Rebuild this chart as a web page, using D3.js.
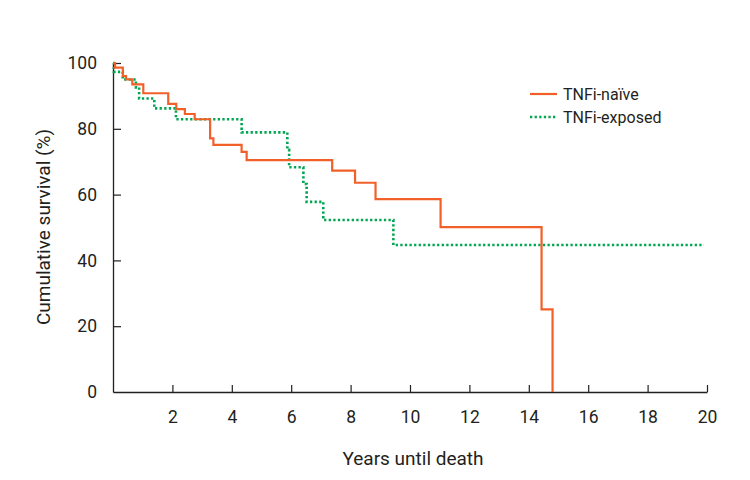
<!DOCTYPE html>
<html>
<head>
<meta charset="UTF-8">
<script src="https://d3js.org/d3.v7.min.js"></script>
<style>
  body { margin: 0; background: #fff; }
  svg { display: block; }
  text { font-family: Roboto, 'Noto Sans', sans-serif; fill: #231f20; }
</style>
</head>
<body>
<svg width="750" height="480"></svg>
<script>
// Kaplan-Meier steps (years, % surviving)
const naiveTime = [0, 0.07, 0.33, 0.44, 0.65, 1.02, 1.86, 2.13, 2.42, 2.75, 3.27, 3.38, 4.33, 4.5, 7.38, 8.15, 8.84, 11.03, 14.43, 14.8];
const naiveSurv = [100, 98.6, 96, 95, 93.5, 90.8, 87.6, 86, 84.5, 82.9, 77.1, 75.1, 73, 70.5, 67.3, 63.6, 58.6, 50.1, 25.1, 0];
const exposedTime = [0, 0.03, 0.33, 0.77, 0.88, 1.39, 2.12, 4.33, 5.87, 5.93, 6.41, 6.52, 7.08, 9.44, 19.9];
const exposedSurv = [100, 97.3, 95, 92.6, 89.2, 86.2, 82.9, 78.9, 73.6, 68.3, 63.2, 57.8, 52.3, 44.7, 44.7];
const xTicks = [2, 4, 6, 8, 10, 12, 14, 16, 18, 20];
const yTicks = [0, 20, 40, 60, 80, 100];
const seriesNames = ["TNFi-naïve", "TNFi-exposed"];

const svg = d3.select("svg");
const x = d3.scaleLinear().domain([0, 20]).range([113, 707]);
const y = d3.scaleLinear().domain([0, 100]).range([392, 63]);

// axes with inward ticks
const xAxis = svg.append("g").attr("transform", `translate(0,${y(0)})`)
  .call(d3.axisBottom(x).tickValues(xTicks).tickSizeInner(-7).tickSizeOuter(0).tickPadding(19));
const yAxis = svg.append("g").attr("transform", `translate(${x(0)},0)`)
  .call(d3.axisLeft(y).tickValues(yTicks).tickSizeInner(-8).tickSizeOuter(0).tickPadding(16));

[xAxis, yAxis].forEach(g => {
  g.select(".domain").attr("stroke", "#231f20").attr("stroke-width", 1.3);
  g.selectAll(".tick line").attr("stroke", "#231f20").attr("stroke-width", 1.2);
  g.selectAll(".tick text").attr("font-size", 17.5).attr("fill", "#231f20")
    .style("font-family", "Roboto, 'Noto Sans', sans-serif");
});
yAxis.selectAll(".tick").filter(d => d === 0).select("line").remove();

const line = d3.line().curve(d3.curveStepAfter).x(d => x(d[0])).y(d => y(d[1]));

svg.append("path")
  .datum(exposedTime.map((t, i) => [t, exposedSurv[i]]))
  .attr("fill", "none").attr("stroke", "#00a651").attr("stroke-width", 2.6)
  .attr("stroke-dasharray", "2.3,2.3").attr("d", line);

svg.append("path")
  .datum(naiveTime.map((t, i) => [t, naiveSurv[i]]))
  .attr("fill", "none").attr("stroke", "#f2602a").attr("stroke-width", 2.2)
  .attr("d", line);

// legend
const legend = svg.append("g");
legend.append("line").attr("x1", 530).attr("x2", 557).attr("y1", 94).attr("y2", 94)
  .attr("stroke", "#f2602a").attr("stroke-width", 2.2);
legend.append("line").attr("x1", 530).attr("x2", 557).attr("y1", 117).attr("y2", 117)
  .attr("stroke", "#00a651").attr("stroke-width", 2.6).attr("stroke-dasharray", "2.3,2.3");
legend.selectAll("text").data(seriesNames).join("text")
  .attr("x", 563).attr("y", (d, i) => 94 + i * 23).attr("dy", "0.35em")
  .attr("font-size", 16).text(d => d);

// axis titles
svg.append("text").attr("x", 413).attr("y", 458).attr("dy", "0.35em")
  .attr("text-anchor", "middle").attr("font-size", 19).text("Years until death");
svg.append("text").attr("transform", "translate(43,227) rotate(-90)").attr("dy", "0.35em")
  .attr("text-anchor", "middle").attr("font-size", 19).text("Cumulative survival (%)");
</script>
</body>
</html>
